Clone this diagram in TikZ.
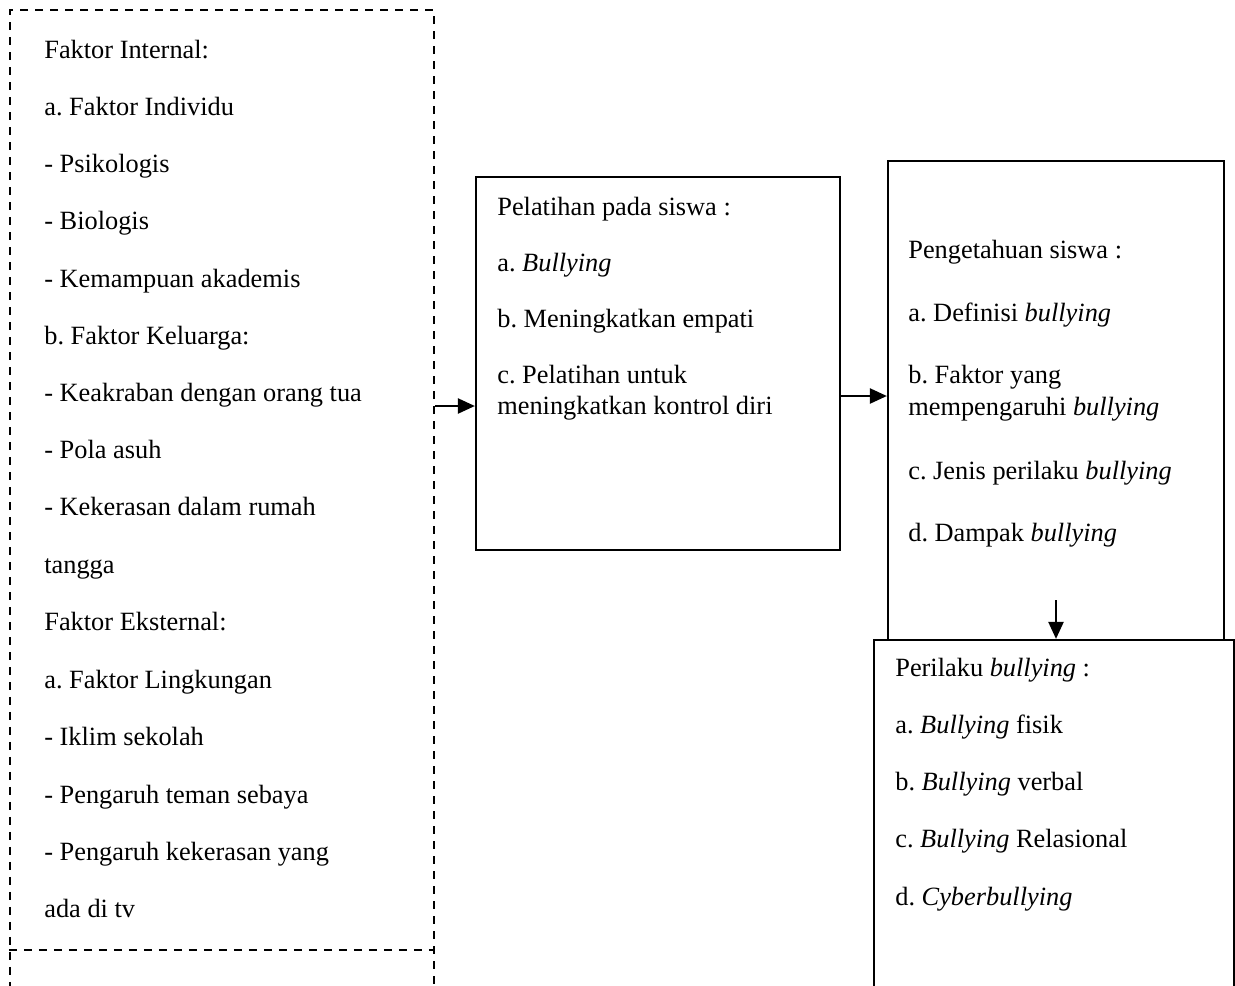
\documentclass[tikz,border=0pt]{standalone}
\usepackage{fontspec}
\setmainfont{Liberation Serif}
\usetikzlibrary{arrows.meta}

\tikzset{
  box/.style={draw,line width=1.3pt,fill=white,inner sep=0pt},
  dbox/.style={draw,line width=1.3pt,dash pattern=on 0.16cm off 0.14cm,inner sep=0pt},
  arr/.style={line width=1.3pt,-{Triangle[length=0.34cm,width=0.3cm]}},
  txt/.style={anchor=base west,inner sep=0pt}
}

\begin{document}
\frenchspacing
\begin{tikzpicture}[x=0.02cm,y=-0.02cm,font=\fontsize{15}{17}\selectfont]

  \useasboundingbox (0,0) rectangle (1235,985);
  \clip (0,0) rectangle (1235,985);

  % --- boxes ---
  \node[dbox,minimum width=8.48cm,minimum height=20cm] (faktor) at (222,510) {};
  \draw[line width=1.3pt,dash pattern=on 0.16cm off 0.14cm] (faktor.west |- 0,950) -- (faktor.east |- 0,950);
  \node[box,minimum width=7.28cm,minimum height=7.46cm] (latih) at (658,363.5) {};
  \node[box,minimum width=6.72cm,minimum height=9.58cm] (tahu) at (1056,400.5) {};
  \node[box,minimum width=7.2cm,minimum height=7.4cm] (laku) at (1054,825) {};

  % --- left box: faktor internal / eksternal ---
  \foreach \y/\t in {58/Faktor Internal:, 115/a. Faktor Individu, 172/- Psikologis,
    229/- Biologis, 287/- Kemampuan akademis, 344/b. Faktor Keluarga:,
    401/- Keakraban dengan orang tua, 458/- Pola asuh, 515/- Kekerasan dalam rumah,
    573/tangga, 630/Faktor Eksternal:, 688/a. Faktor Lingkungan, 745/- Iklim sekolah,
    803/- Pengaruh teman sebaya, 860/- Pengaruh kekerasan yang, 917/ada di tv}{
    \node[txt] at (44,\y) {\t};
  }

  % --- middle box: pelatihan ---
  \node[txt] (l1) at (497,215) {Pelatihan pada siswa :};
  \node[txt] (l2) at (497,271) {a. \textit{Bullying}};
  \node[txt] (l3) at (497,327) {b. Meningkatkan empati};
  \node[txt] (l4) at (497,383) {c. Pelatihan untuk};
  \node[txt] (l5) at (497,414) {meningkatkan kontrol diri};

  % --- right box: pengetahuan ---
  \node[txt] (p1) at (908,258) {Pengetahuan siswa :};
  \node[txt] (p2) at (908,321) {a. Definisi \textit{bullying}};
  \node[txt] (p3) at (908,383) {b. Faktor yang};
  \node[txt] (p4) at (908,415) {mempengaruhi \textit{bullying}};
  \node[txt] (p5) at (908,479) {c. Jenis perilaku \textit{bullying}};
  \node[txt] (p6) at (908,541) {d. Dampak \textit{bullying}};

  % --- bottom right box: perilaku ---
  \node[txt] (b1) at (895,676) {Perilaku \textit{bullying} :};
  \node[txt] (b2) at (895,733) {a. \textit{Bullying} fisik};
  \node[txt] (b3) at (895,790) {b. \textit{Bullying} verbal};
  \node[txt] (b4) at (895,847) {c. \textit{Bullying} Relasional};
  \node[txt] (b5) at (895,905) {d. \textit{Cyberbullying}};

  % --- arrows ---
  \coordinate (y1) at (0,406);
  \coordinate (y2) at (0,396);
  \coordinate (y3) at (1056,600);
  \draw[arr] (faktor.east |- y1) -- (latih.west |- y1);
  \draw[arr] (latih.east |- y2) -- (tahu.west |- y2);
  \draw[arr] (y3) -- (laku.north -| y3);

\end{tikzpicture}
\end{document}
